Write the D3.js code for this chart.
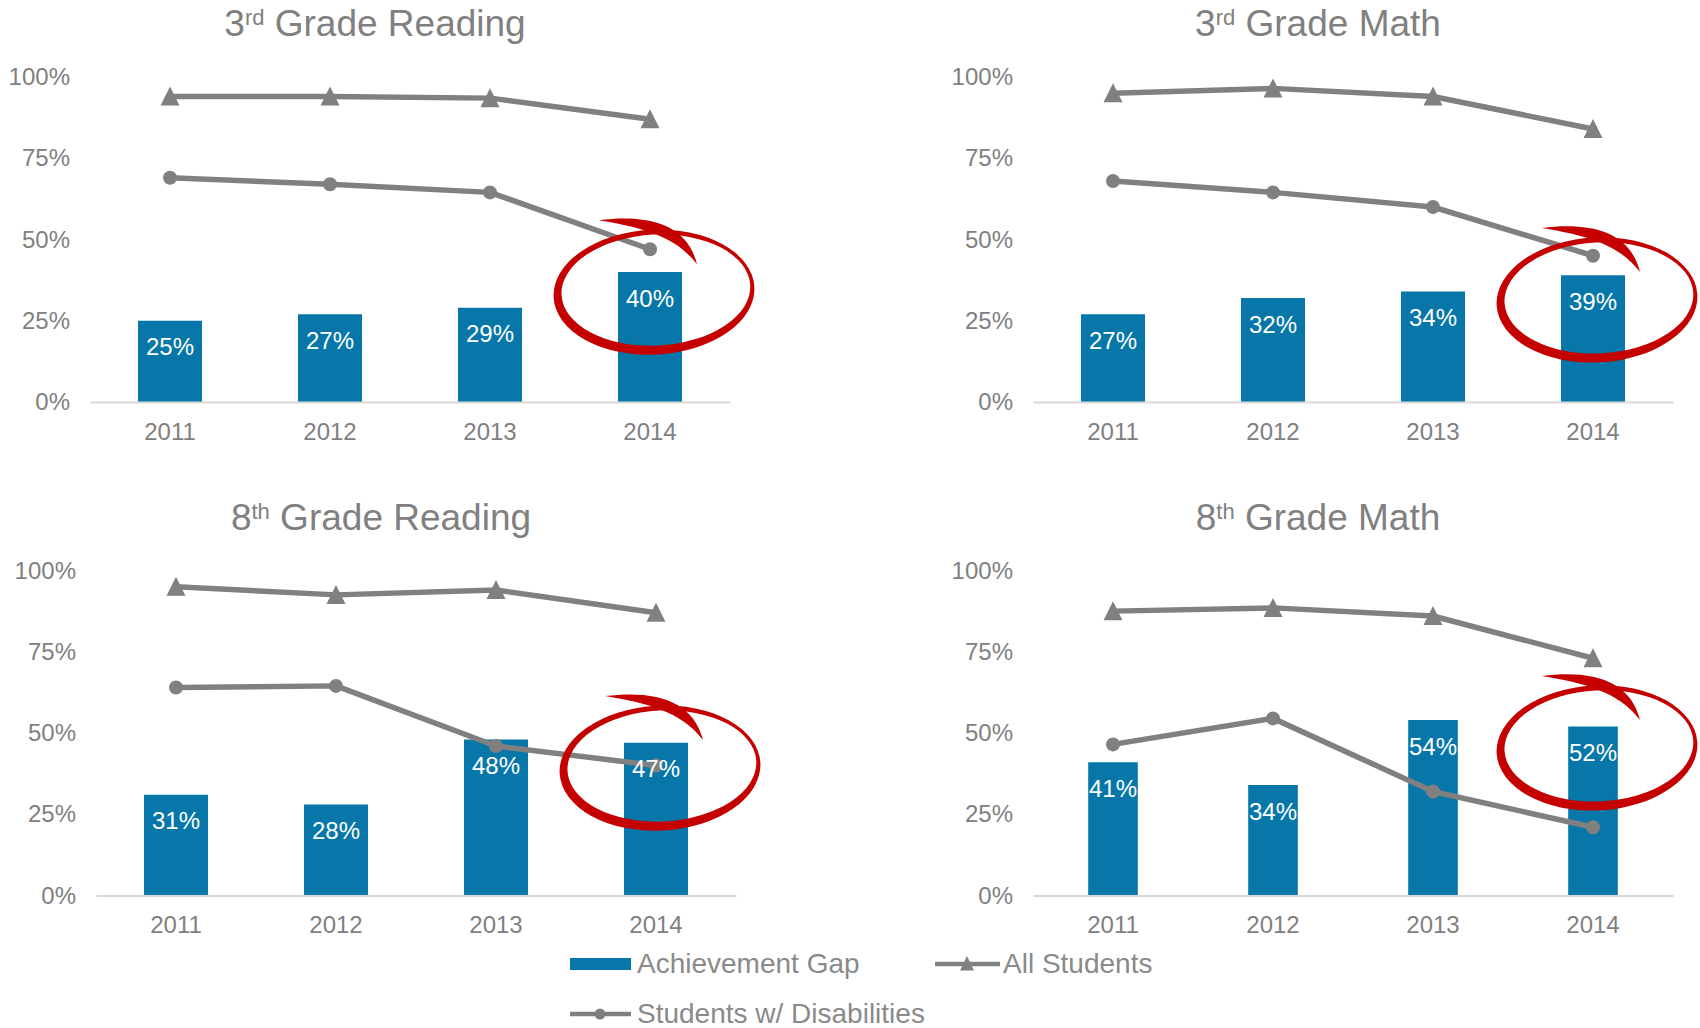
<!DOCTYPE html>
<html>
<head>
<meta charset="utf-8">
<script src="https://cdn.jsdelivr.net/npm/d3@7"></script>
<style>
  html, body { margin: 0; padding: 0; background: #ffffff; }
  svg { display: block; font-family: "Liberation Sans", Arial, sans-serif; }
</style>
</head>
<body>
<svg id="chart" width="1700" height="1028"></svg>
<script>
// ---------- data ----------
const years = ["2011", "2012", "2013", "2014"];
const yTicks = [0, 25, 50, 75, 100];

const titleNums = ["3", "3", "8", "8"];
const titleSups = ["rd", "rd", "th", "th"];
const titleSubjects = ["Grade Reading", "Grade Math", "Grade Reading", "Grade Math"];

// Achievement gap (bars), All Students (triangles), Students w/ Disabilities (circles)
const gapR3 = [25, 27, 29, 40];
const allR3 = [94, 94, 93.5, 87];
const swdR3 = [69, 67, 64.5, 47];

const gapM3 = [27, 32, 34, 39];
const allM3 = [95, 96.5, 94, 84];
const swdM3 = [68, 64.5, 60, 45];

const gapR8 = [31, 28, 48, 47];
const allR8 = [95, 92.5, 94, 87];
const swdR8 = [64, 64.5, 46, 40];

const gapM8 = [41, 34, 54, 52];
const allM8 = [87.5, 88.5, 86, 73];
const swdM8 = [46.5, 54.5, 32, 21];

// highlighted year and circle centre value (annotation)
const highlightYear = "2014";
const highlightValues = [33.8, 31.4, 39.2, 45.4];

const legendLabels = ["Achievement Gap", "All Students", "Students w/ Disabilities"];

// ---------- styles / layout ----------
const BAR = "#0776a8";
const LINE = "#808080";
const TEXT = "#808080";
const RED = "#c40000";

const panels = [
  { gap: gapR3, all: allR3, swd: swdR3, xr: [90, 730],   y0: 402,   y1: 77,    barFrac: 0.40 },
  { gap: gapM3, all: allM3, swd: swdM3, xr: [1033, 1673], y0: 402,   y1: 77,    barFrac: 0.40 },
  { gap: gapR8, all: allR8, swd: swdR8, xr: [96, 736],   y0: 895.5, y1: 570.5, barFrac: 0.40 },
  { gap: gapM8, all: allM8, swd: swdM8, xr: [1033, 1673], y0: 895.5, y1: 570.5, barFrac: 0.31 }
];

const svg = d3.select("#chart");
const triPath = "M0,-10L9.5,9L-9.5,9Z";

panels.forEach((p, i) => {
  const g = svg.append("g");
  const x = d3.scaleBand().domain(years).range(p.xr).padding(0);
  const y = d3.scaleLinear().domain([0, 100]).range([p.y0, p.y1]);
  const cx = d => x(d) + x.bandwidth() / 2;
  const bw = x.bandwidth() * p.barFrac;

  // title (alphabetic baseline)
  const t = g.append("text")
    .attr("x", (p.xr[0] + p.xr[1]) / 2 - 35)
    .attr("y", p.y1 - 41)
    .attr("text-anchor", "middle")
    .attr("fill", TEXT)
    .style("font-size", "37px");
  t.append("tspan").text(titleNums[i]);
  t.append("tspan").attr("dy", -11).style("font-size", "22px").text(titleSups[i]);
  t.append("tspan").attr("dy", 11).text(" " + titleSubjects[i]);

  // y axis labels
  const yAxis = d3.axisLeft(y).tickValues(yTicks).tickFormat(d => d + "%").tickSize(0).tickPadding(20);
  const ya = g.append("g").attr("transform", `translate(${p.xr[0]},0)`).call(yAxis);
  ya.select(".domain").remove();
  ya.selectAll("text").attr("fill", TEXT).style("font-size", "24px").style("font-family", "Liberation Sans, Arial, sans-serif");

  // bars
  g.selectAll("rect.bar").data(p.gap).enter().append("rect")
    .attr("class", "bar")
    .attr("x", (d, j) => cx(years[j]) - bw / 2)
    .attr("y", d => y(d))
    .attr("width", bw)
    .attr("height", d => y(0) - y(d))
    .attr("fill", BAR);

  // x axis
  const xAxis = d3.axisBottom(x).tickSize(0).tickPadding(20);
  const xa = g.append("g").attr("transform", `translate(0,${p.y0})`).call(xAxis);
  xa.select(".domain").attr("stroke", "#d9d9d9").attr("stroke-width", 2);
  xa.selectAll("text").attr("fill", TEXT).style("font-size", "24px")
    .style("font-family", "Liberation Sans, Arial, sans-serif")
    .attr("dy", null).attr("y", 29).attr("dominant-baseline", "central");

  // lines
  const line = d3.line().x((d, j) => cx(years[j])).y(d => y(d));
  [p.all, p.swd].forEach(arr => {
    g.append("path").datum(arr).attr("d", line)
      .attr("fill", "none").attr("stroke", LINE).attr("stroke-width", 5.5)
      .attr("stroke-linejoin", "round");
  });
  g.selectAll("path.tri").data(p.all).enter().append("path")
    .attr("class", "tri")
    .attr("d", triPath)
    .attr("transform", (d, j) => `translate(${cx(years[j])},${y(d)})`)
    .attr("fill", LINE);
  g.selectAll("circle.dot").data(p.swd).enter().append("circle")
    .attr("class", "dot")
    .attr("cx", (d, j) => cx(years[j]))
    .attr("cy", d => y(d))
    .attr("r", 7)
    .attr("fill", LINE);

  // bar labels
  g.selectAll("text.lbl").data(p.gap).enter().append("text")
    .attr("class", "lbl")
    .attr("x", (d, j) => cx(years[j]))
    .attr("y", d => y(d) + 26)
    .attr("text-anchor", "middle")
    .attr("dominant-baseline", "central")
    .attr("fill", "#ffffff")
    .style("font-size", "24px")
    .text(d => d + "%");

  // red highlight annotation
  const ex = cx(highlightYear) + 4;
  const ey = y(highlightValues[i]);
  const ell = (cxx, cyy, rx, ry) =>
    `M${cxx - rx},${cyy}A${rx},${ry} 0 1,0 ${cxx + rx},${cyy}A${rx},${ry} 0 1,0 ${cxx - rx},${cyy}Z`;
  g.append("path")
    .attr("d", ell(ex, ey, 100.5, 62.5) + ell(ex + 2, ey - 2, 94.5, 55.5))
    .attr("fill", RED)
    .attr("fill-rule", "evenodd")
    .attr("transform", `rotate(-3,${ex},${ey})`);
  g.append("path")
    .attr("d", `M${ex - 55},${ey - 72}C${ex - 5},${ey - 78} ${ex + 33},${ey - 68} ${ex + 43},${ey - 28}` +
               `C${ex + 24},${ey - 52} ${ex},${ey - 63} ${ex - 55},${ey - 72}Z`)
    .attr("fill", RED);
});

// ---------- legend ----------
const lg = svg.append("g").style("font-size", "28px").attr("fill", "#8a8a8a");
// Achievement Gap
lg.append("rect").attr("x", 570).attr("y", 958).attr("width", 61).attr("height", 12).attr("fill", BAR);
lg.append("text").attr("x", 637).attr("y", 963).attr("dominant-baseline", "central").text(legendLabels[0]);
// All Students
lg.append("line").attr("x1", 935).attr("x2", 1000).attr("y1", 964).attr("y2", 964)
  .attr("stroke", LINE).attr("stroke-width", 4.5);
lg.append("path").attr("d", "M0,-8L7,6.5L-7,6.5Z").attr("transform", "translate(967,964)").attr("fill", LINE);
lg.append("text").attr("x", 1003).attr("y", 963).attr("dominant-baseline", "central").text(legendLabels[1]);
// Students w/ Disabilities
lg.append("line").attr("x1", 570).attr("x2", 631).attr("y1", 1014).attr("y2", 1014)
  .attr("stroke", LINE).attr("stroke-width", 4.5);
lg.append("circle").attr("cx", 600).attr("cy", 1014).attr("r", 5.5).attr("fill", LINE);
lg.append("text").attr("x", 637).attr("y", 1013).attr("dominant-baseline", "central").text(legendLabels[2]);
</script>
</body>
</html>
